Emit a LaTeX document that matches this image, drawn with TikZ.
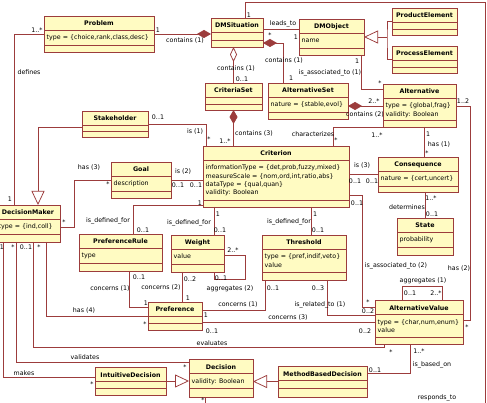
\documentclass[tikz,border=0pt]{standalone}
\usepackage{fontspec}
\setmainfont{DejaVu Sans}
\usepackage{xcolor}
\usepackage{tikz}
\usetikzlibrary{calc,arrows.meta}
\definecolor{umlc}{HTML}{9C3C3C}
\definecolor{umlbg}{HTML}{FFFBC2}
\newcommand{\umlfont}{\fontsize{6.3}{8.2}\selectfont}
\tikzset{
  cls/.style={draw=umlc,fill=umlbg,line width=0.9pt,anchor=north west,inner sep=0pt,outer sep=0pt},
  ttl/.style={font=\umlfont\bfseries,inner sep=0pt,anchor=base},
  att/.style={font=\umlfont,inner sep=0pt,anchor=base west},
  lnk/.style={draw=umlc,line width=0.75pt},
  comp/.style={lnk,{Diamond[length=14pt,width=8pt]}-},
  aggr/.style={lnk,{Diamond[open,length=15pt,width=7pt]}-},
  gen/.style={lnk,{Triangle[open,length=14pt,width=13pt]}-},
  lbl/.style={font=\umlfont,inner sep=0pt}
}
% class box: name, x, y, width, height, attributes, attribute height
\newcommand{\umlclass}[7]{%
  \node[cls,minimum width=#4pt,minimum height=#5pt] (#1) at (#2,#3) {};
  \node[ttl] (#1-t) at ([yshift=-10pt]#1.north) {#1};
  \draw[umlc,line width=0.9pt] ([yshift=-14pt]#1.north west) -- ([yshift=-14pt]#1.north east)
    ([yshift=-14pt-#7pt]#1.north west) -- ([yshift=-14pt-#7pt]#1.north east);
  \node[att] (#1-a) at ([xshift=2.5pt,yshift=-24pt]#1.north west)
    {\begin{tabular}[t]{@{}l@{}}#6\end{tabular}};
}

\begin{document}
\begin{tikzpicture}[x=1pt,y=-1pt]
\fill[white] (0,0) rectangle (487,403);
\useasboundingbox (0,0) rectangle (487,403);
\clip (0,0) rectangle (487,403);
% classes
\umlclass{Problem}{44}{16}{110}{36}{type = \{choice,rank,class,desc\}}{15}
\umlclass{DMSituation}{211}{18}{52}{29}{}{8}
\umlclass{DMObject}{299}{19}{65}{36}{name}{15}
\umlclass{ProductElement}{392}{8}{65}{27}{}{7}
\umlclass{ProcessElement}{392}{46}{65}{27}{}{7}
\umlclass{CriteriaSet}{205}{83}{57}{27}{}{7}
\umlclass{AlternativeSet}{268}{83}{80}{36}{nature = \{stable,evol\}}{15}
\umlclass{Alternative}{383}{84}{73}{43}{type = \{global,frag\}\\validity: Boolean}{22}
\umlclass{Stakeholder}{82}{111}{66}{26}{}{6}
\umlclass{Criterion}{203}{146}{146}{61}{informationType = \{det,prob,fuzzy,mixed\}\\measureScale = \{nom,ord,int,ratio,abs\}\\dataType = \{qual,quan\}\\validity: Boolean}{40}
\umlclass{Goal}{111}{162}{60}{36}{description}{15}
\umlclass{Consequence}{378}{157}{80}{35}{nature = \{cert,uncert\}}{15}
\umlclass{State}{397}{218}{56}{37}{probability}{15}
\umlclass{DecisionMaker}{-4}{205}{64}{37}{type = \{ind,coll\}}{15}
\umlclass{PreferenceRule}{79}{234}{83}{37}{type}{15}
\umlclass{Weight}{171}{235}{53}{37}{value}{15}
\umlclass{Threshold}{262}{235}{84}{45}{type = \{pref,indif,veto\}\\value}{23}
\umlclass{Preference}{148}{302}{54}{28}{}{7}
\umlclass{AlternativeValue}{375}{300}{88}{44}{type = \{char,num,enum\}\\value}{23}
\umlclass{IntuitiveDecision}{95}{367}{71}{28}{}{7}
\umlclass{Decision}{189}{359}{64}{38}{validity: Boolean}{15}
\umlclass{MethodBasedDecision}{278}{366}{89}{31}{}{8}
% bend points
\coordinate (dmdef) at ([xshift=18pt]DecisionMaker.north west);
\coordinate (lt) at ([yshift=3pt]DMSituation.east);
\coordinate (dsc) at ([yshift=-10.5pt]DMSituation.east);
\coordinate (asTop) at ([xshift=15pt]AlternativeSet.north west);
\coordinate (rtA) at ([xshift=8pt]DMSituation.north);
\coordinate (rtB) at (485,2);
\coordinate (rtC) at (485,420);
\coordinate (rtD) at ([xshift=-16pt]Decision.south);
\coordinate (gj) at ([xshift=23pt]DMObject.east);
\coordinate (iaA) at ([xshift=-3pt]DMObject.south east);
\coordinate (iaB) at ([yshift=-5pt]Alternative.north west);
\coordinate (c2) at ([yshift=-5pt]AlternativeSet.east);
\coordinate (h1) at ([xshift=6pt]Consequence.north);
\coordinate (chA) at ([xshift=-16pt]Criterion.north east);
\coordinate (i1A) at ([yshift=-13pt]Stakeholder.north east);
\coordinate (i1B) at ([xshift=3pt]Criterion.north west);
\coordinate (shA) at ([xshift=42pt]DecisionMaker.north west);
\coordinate (shB) at ([yshift=-16pt]Stakeholder.north west);
\coordinate (h3) at ([xshift=14pt,yshift=-4pt]DecisionMaker.east);
\coordinate (dfA) at ([yshift=1.5pt]Criterion.south west);
\coordinate (dfB) at ([xshift=54pt]PreferenceRule.north west);
\coordinate (dfW) at ([xshift=43pt]Weight.north west);
\coordinate (dfT) at ([xshift=49pt]Threshold.north west);
\coordinate (a2A) at ([yshift=12pt]Criterion.south east);
\coordinate (a2B) at ([yshift=-7pt]AlternativeValue.north west);
\coordinate (a2C) at ([xshift=-13pt]a2B);
\coordinate (ag1A) at ([xshift=27pt]AlternativeValue.north west);
\coordinate (ag1B) at ([xshift=67pt]AlternativeValue.north west);
\coordinate (ag2A) at ([yshift=-20pt]Weight.north east);
\coordinate (ag2B) at ([xshift=43pt]Weight.south west);
\coordinate (cpA) at ([xshift=50pt]PreferenceRule.south west);
\coordinate (cpB) at ([yshift=-5pt]Preference.north west);
\coordinate (cw) at ([xshift=11pt]Weight.south west);
\coordinate (ctA) at ([xshift=3pt]Threshold.south west);
\coordinate (ctB) at ([yshift=-8pt]Preference.north east);
\coordinate (rlA) at ([xshift=65pt]Threshold.south west);
\coordinate (rlB) at ([yshift=-15pt]AlternativeValue.north west);
\coordinate (c3) at ([yshift=-6pt]Preference.east);
\coordinate (h4) at ([xshift=50pt]DecisionMaker.south west);
\coordinate (evA) at ([xshift=37pt]DecisionMaker.south west);
\coordinate (evB) at ([xshift=9pt]AlternativeValue.south west);
\coordinate (vaA) at ([xshift=20pt]DecisionMaker.south west);
\coordinate (vaB) at ([yshift=-3pt]Decision.north west);
\coordinate (mkA) at ([xshift=7pt]DecisionMaker.south west);
\coordinate (mkB) at ([yshift=-10pt]IntuitiveDecision.north west);
\coordinate (ibA) at ([yshift=-7pt]MethodBasedDecision.north east);
\coordinate (ibB) at ([xshift=35pt]AlternativeValue.south west);
\coordinate (h2A) at ([yshift=-22pt]Alternative.north east);
\coordinate (h2B) at ([yshift=-20pt]AlternativeValue.north east);
% connectors
\draw[comp] (DMSituation.west |- Problem.east) -- (Problem.east)
  node[lbl] (pc1) at (158,30) {1} node[lbl] (pc2) at (185,41) {contains (1)};
\draw[lnk] (Problem.west) -| (dmdef)
  node[lbl] (df1) at (37,30) {1..*} node[lbl] (df2) at (29,72) {defines} node[lbl] (df3) at (10,199) {1};
\draw[aggr] (DMSituation.south -| CriteriaSet.north) -- (CriteriaSet.north)
  node[lbl] (cs1) at (236,69) {contains (1)} node[lbl] (cs2) at (242,79) {0..1};
\draw[lnk] (lt) -- (lt -| DMObject.west)
  node[lbl] (lt1) at (283,24) {leads\_to} node[lbl] (lt2) at (270,35) {*} node[lbl] (lt3) at (296,37) {1};
\draw[comp] (dsc) -| (asTop)
  node[lbl] (as1) at (284,61) {contains (1)} node[lbl] (as2) at (291,78) {1};
\draw[lnk] (rtA) |- (rtB) -- (rtC) -| (rtD)
  node[lbl] (rs1) at (249,15) {1} node[lbl] (rs2) at (203,400) {*} node[lbl] (rs3) at (437,398) {responds\_to};
\draw[gen] (DMObject.east) -- (gj);
\draw[lnk] (ProductElement.west) -| (gj) |- (ProcessElement.west);
\draw[lnk] (iaA) |- (iaB)
  node[lbl] (ia1) at (357,61) {1} node[lbl] (ia2) at (330,73) {is\_associated\_to (1)} node[lbl] (ia3) at (380,83) {*};
\draw[comp] (c2) -- (c2 -| Alternative.west)
  node[lbl] (ca1) at (374,101) {2..*} node[lbl] (ca2) at (365,115) {contains (2)};
\draw[lnk] (h1 |- Alternative.south) -- (h1)
  node[lbl] (hc1) at (428,134) {1} node[lbl] (hc2) at (439,145) {has (1)} node[lbl] (hc3) at (427,153) {*};
\draw[lnk] (chA) |- (Alternative.south west)
  node[lbl] (ch1) at (313,134) {characterizes} node[lbl] (ch2) at (336,140) {*} node[lbl] (ch3) at (377,135) {1..*};
\draw[lnk] (i1A) -| (i1B)
  node[lbl] (is1) at (158,117) {0..1} node[lbl] (is2) at (195,132) {is (1)} node[lbl] (is3) at (209,139) {*};
\draw[gen] (shA) |- (shB);
\draw[comp] (CriteriaSet.south) -- (CriteriaSet.south |- Criterion.north)
  node[lbl] (cc1) at (254,134) {contains (3)} node[lbl] (cc2) at (225,141) {1..*};
\draw[lnk] (Goal.west) -| (h3) -- (h3 -| DecisionMaker.east)
  node[lbl] (hg1) at (89,168) {has (3)} node[lbl] (hg2) at (108,184) {*} node[lbl] (hg3) at (64,222) {*};
\draw[lnk] (Goal.east) -- (Goal.east -| Criterion.west)
  node[lbl] (gc1) at (183,172) {is (2)} node[lbl] (gc2) at (178,185) {0..1} node[lbl] (gc3) at (196,185) {0..1};
\draw[lnk] (dfA) -| (dfB)
  node[lbl] (dp1) at (200,203) {1} node[lbl] (dp2) at (108,221) {is\_defined\_for} node[lbl] (dp3) at (143,230) {0..1};
\draw[lnk] (dfW |- Criterion.south) -- (dfW)
  node[lbl] (dw1) at (189,223) {is\_defined\_for} node[lbl] (dw2) at (218,214) {1} node[lbl] (dw3) at (220,230) {0..1};
\draw[lnk] (dfT |- Criterion.south) -- (dfT)
  node[lbl] (dt1) at (289,222) {is\_defined\_for} node[lbl] (dt2) at (315,214) {1} node[lbl] (dt3) at (318,230) {0..1};
\draw[lnk] (Consequence.west -| Criterion.east) -- (Consequence.west)
  node[lbl] (cq1) at (362,166) {is (3)} node[lbl] (cq2) at (355,181) {0..1} node[lbl] (cq3) at (372,181) {0..1};
\draw[lnk] (a2A) -| (a2C) -- (a2B)
  node[lbl] (av1) at (357,203) {0..1} node[lbl] (av2) at (396,266) {is\_associated\_to (2)} node[lbl] (av3) at (368,302) {*};
\draw[lnk] (State.north |- Consequence.south) -- (State.north)
  node[lbl] (de1) at (431,198) {1..*} node[lbl] (de2) at (407,207) {determines} node[lbl] (de3) at (432,214) {0..1};
\draw[lnk] (ag1A) -- ++(0,-14) -| (ag1B)
  node[lbl] (ga1) at (423,281) {aggregates (1)} node[lbl] (ga2) at (410,293) {0..1} node[lbl] (ga3) at (436,293) {2..*};
\draw[lnk] (ag2A) -- ++(21,0) |- ([yshift=-7pt]ag2B) -- (ag2B)
  node[lbl] (gw1) at (233,250) {2..*} node[lbl] (gw2) at (221,278) {0..1} node[lbl] (gw3) at (230,289) {aggregates (2)};
\draw[lnk] (cpA) |- (cpB)
  node[lbl] (pr1) at (139,277) {0..1} node[lbl] (pr2) at (110,289) {concerns (1)} node[lbl] (pr3) at (146,303) {1};
\draw[lnk] (cw) -- (cw |- Preference.north)
  node[lbl] (pw1) at (190,279) {0..2} node[lbl] (pw2) at (161,288) {concerns (2)} node[lbl] (pw3) at (188,298) {1};
\draw[lnk] (ctA) |- (ctB)
  node[lbl] (pt1) at (273,288) {0..1} node[lbl] (pt2) at (238,305) {concerns (1)} node[lbl] (pt3) at (206,315) {1};
\draw[lnk] (rlA) |- (rlB)
  node[lbl] (rl1) at (318,288) {0..3} node[lbl] (rl2) at (320,305) {is\_related\_to (1)} node[lbl] (rl3) at (368,311) {0..2};
\draw[lnk] (c3) -- (c3 -| AlternativeValue.west)
  node[lbl] (pv1) at (288,318) {concerns (3)} node[lbl] (pv2) at (212,331) {0..1} node[lbl] (pv3) at (365,331) {0..2};
\draw[lnk] (h4) |- (Preference.west)
  node[lbl] (hp1) at (39,247) {*} node[lbl] (hp2) at (84,311) {has (4)} node[lbl] (hp3) at (145,324) {*};
\draw[lnk] (evA) |- ([yshift=-3pt]evB) -- (evB)
  node[lbl] (ev1) at (26,247) {0..1} node[lbl] (ev2) at (212,343) {evaluates} node[lbl] (ev3) at (391,352) {*};
\draw[lnk] (vaA) |- (vaB)
  node[lbl] (vd1) at (13,247) {*} node[lbl] (vd2) at (85,357) {validates} node[lbl] (vd3) at (185,367) {*};
\draw[lnk] (mkA) |- (mkB)
  node[lbl] (mk1) at (2,247) {1} node[lbl] (mk2) at (24,373) {makes} node[lbl] (mk3) at (92,384) {*};
\draw[gen] (IntuitiveDecision.east -| Decision.west) -- (IntuitiveDecision.east);
\draw[gen] (MethodBasedDecision.west -| Decision.east) -- (MethodBasedDecision.west);
\draw[lnk] (ibA) -| (ibB)
  node[lbl] (ib1) at (375,370) {0..1} node[lbl] (ib2) at (419,351) {1..*} node[lbl] (ib3) at (432,365) {is\_based\_on};
\draw[lnk] (h2A) -| ([xshift=7pt]h2B) -- (h2B)
  node[lbl] (ha1) at (463,101) {1..2} node[lbl] (ha2) at (459,269) {has (2)} node[lbl] (ha3) at (467,327) {*};
\end{tikzpicture}
\end{document}
